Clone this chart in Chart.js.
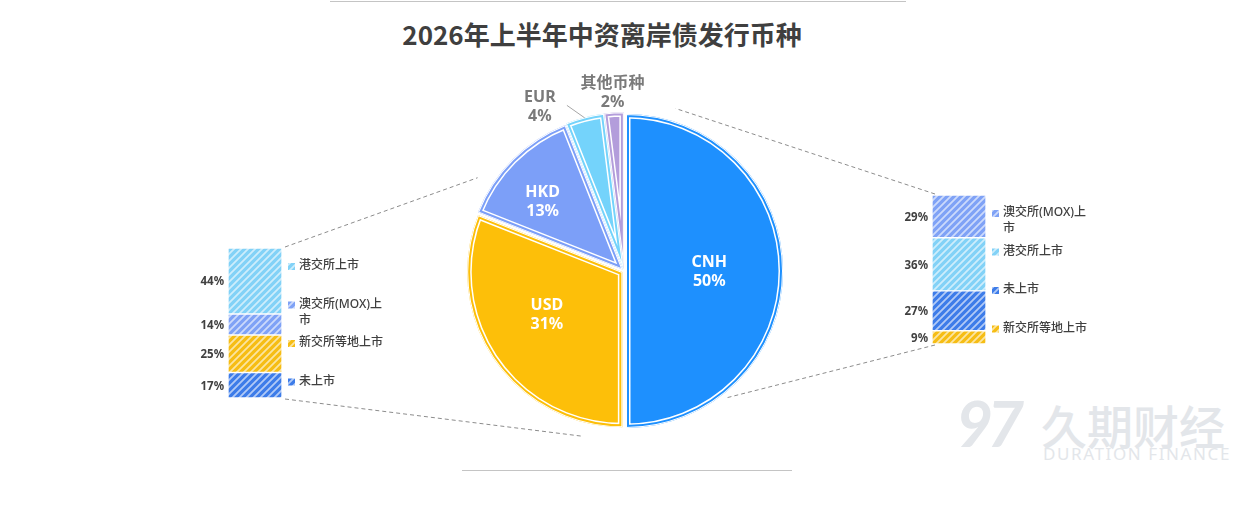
<!DOCTYPE html>
<html>
<head>
<meta charset="utf-8">
<script src="https://cdn.jsdelivr.net/npm/chart.js@4.4.1/dist/chart.umd.min.js"></script>
<style>
  html, body { margin: 0; padding: 0; background: #fff; }
  #wrap { position: relative; width: 1259px; height: 528px; overflow: hidden; font-family: "Noto Sans CJK SC", "Noto Sans", sans-serif; }
  #wrap canvas { position: absolute; }
  .rule { position: absolute; height: 1px; background: #c4c4c4; }
  .title { position: absolute; left: 0; width: 1204px; top: 15px; text-align: center; font-size: 26px; font-weight: bold; color: #3f3f3f; letter-spacing: 0; }
  .wm { position: absolute; color: #e3e6ea; white-space: nowrap; }
</style>
</head>
<body>
<div id="wrap">
  <div class="rule" style="left:330px; top:1px; width:576px;"></div>
  <div class="rule" style="left:462px; top:470px; width:330px;"></div>
  <div class="title">2026年上半年中资离岸债发行币种</div>

  <div class="wm" style="left:956px; top:384px; font: italic bold 64px 'Lato', sans-serif; letter-spacing:-6px;">97</div>
  <div class="wm" style="left:1041px; top:391px; font-size:46px; font-weight:500;">久期财经</div>
  <div class="wm" style="left:1043px; top:442px; font: 17px 'Noto Sans', sans-serif; letter-spacing:1.6px;">DURATION FINANCE</div>

  <canvas id="pieChart" width="1259" height="528" style="left:0; top:0;"></canvas>
  <canvas id="usdBar" width="230" height="190" style="left:190px; top:230px;"></canvas>
  <canvas id="cnhBar" width="230" height="190" style="left:890px; top:180px;"></canvas>
</div>

<script>
// currency split of issuance
const currencies = ["CNH", "USD", "HKD", "EUR", "其他币种"];
const shares = [50, 31, 13, 4, 2];
const currencyColors = ["#1e90fe", "#fdbf09", "#7c9ff8", "#74d3fb", "#b39ddb"];

// listing venue split, same order as venues
const venues = ["港交所上市", "澳交所(MOX)上市", "新交所等地上市", "未上市"];
const venueColors = ["#82d2f7", "#7fa2f6", "#f6bd14", "#3d7ce9"];
const usdVenueShares = [44, 14, 25, 17];
const cnhVenueShares = [36, 29, 9, 27];

// top-to-bottom stacking order of each bar (indices into venues)
const usdOrder = [0, 1, 2, 3];
const cnhOrder = [1, 0, 3, 2];

const labelFont = '"Noto Sans", "Noto Sans CJK SC", sans-serif';

function hatch(color) {
  const c = document.createElement("canvas");
  c.width = 7;
  c.height = 7;
  const g = c.getContext("2d");
  g.fillStyle = color;
  g.fillRect(0, 0, 7, 7);
  g.strokeStyle = "rgba(255,255,255,0.6)";
  g.lineWidth = 1.8;
  g.beginPath();
  for (let k = -7; k <= 7; k += 7) {
    g.moveTo(k - 1, 8);
    g.lineTo(k + 8, -1);
  }
  g.stroke();
  return g.createPattern(c, "repeat");
}

function wrapText(ctx, text, maxW) {
  const lines = [];
  let cur = "";
  for (const ch of text) {
    if (ctx.measureText(cur + ch).width > maxW && cur) {
      lines.push(cur);
      cur = ch;
    } else {
      cur += ch;
    }
  }
  lines.push(cur);
  return lines;
}

// percent labels left of the bar + legend right of it
const barDecor = {
  id: "barDecor",
  afterDatasetsDraw(chart) {
    const ctx = chart.ctx;
    const order = chart.options.venueOrder;
    ctx.save();
    chart.data.datasets.forEach((ds, i) => {
      const bar = chart.getDatasetMeta(i).data[0];
      const mid = (bar.y + bar.base) / 2;
      ctx.font = "bold 11.5px " + labelFont;
      ctx.fillStyle = "#404040";
      ctx.textAlign = "right";
      ctx.textBaseline = "middle";
      ctx.fillText(ds.data[0] + "%", bar.x - bar.width / 2 - 4, mid + 1);
    });
    const area = chart.chartArea;
    order.forEach((v, k) => {
      const y = area.top + 18 + k * 38.5;
      const x = area.right + 6;
      ctx.fillStyle = hatch(venueColors[v]);
      ctx.fillRect(x, y - 3, 7, 7);
      ctx.font = "500 12px " + labelFont;
      ctx.fillStyle = "#404040";
      ctx.textAlign = "left";
      ctx.textBaseline = "middle";
      wrapText(ctx, venues[v], 92).forEach((ln, j) => {
        ctx.fillText(ln, x + 11, y + j * 16);
      });
    });
    ctx.restore();
  }
};

function makeBar(id, values, order, pad) {
  const total = values.reduce((a, b) => a + b, 0);
  const bottomUp = order.slice().reverse();
  return new Chart(document.getElementById(id), {
    type: "bar",
    data: {
      labels: [""],
      datasets: bottomUp.map((v) => ({
        label: venues[v],
        data: [values[v]],
        backgroundColor: hatch(venueColors[v]),
        borderColor: "#fff",
        borderWidth: 1,
        borderSkipped: false,
        barPercentage: 1,
        categoryPercentage: 1,
      })),
    },
    options: {
      responsive: false,
      animation: false,
      events: [],
      venueOrder: order,
      layout: { padding: pad },
      scales: {
        x: { display: false, stacked: true },
        y: { display: false, stacked: true, min: 0, max: total },
      },
      plugins: { legend: { display: false }, tooltip: { enabled: false } },
    },
    plugins: [barDecor],
  });
}

const usdBar = makeBar("usdBar", usdVenueShares, usdOrder, { left: 38, right: 138, top: 18, bottom: 22 });
const cnhBar = makeBar("cnhBar", cnhVenueShares, cnhOrder, { left: 42, right: 134, top: 15, bottom: 26 });

// label placement for each slice
const pieLabelStyle = [
  { dist: 0.55, dx: 0, dy: 0, outside: false },
  { dist: 0.57, dx: -4, dy: -6, outside: false },
  { dist: 0.66, dx: -9, dy: 3, outside: false },
  { dist: 1.17, dx: -39, dy: 11, outside: true, leader: true },
  { dist: 1.17, dx: 0, dy: 2, outside: true },
];

// dashed lines from bar corners toward the pie
const connectors = [
  { chart: usdBar, left: 190, top: 230, side: "right", end: "top", angle: 302.5, dist: 1.12 },
  { chart: usdBar, left: 190, top: 230, side: "right", end: "bottom", angle: 194.4, dist: 1.1 },
  { chart: cnhBar, left: 890, top: 180, side: "left", end: "top", angle: 17.6, dist: 1.1 },
  { chart: cnhBar, left: 890, top: 180, side: "left", end: "bottom", angle: 141.3, dist: 1.05 },
];

const connectorLines = {
  id: "connectorLines",
  beforeDatasetsDraw(chart) {
    const ctx = chart.ctx;
    const arc = chart.getDatasetMeta(0).data[0];
    ctx.save();
    ctx.strokeStyle = "#8c8c8c";
    ctx.lineWidth = 1;
    ctx.setLineDash([4, 3]);
    connectors.forEach((c) => {
      const metas = c.chart.getSortedVisibleDatasetMetas();
      const topBar = metas[metas.length - 1].data[0];
      const botBar = metas[0].data[0];
      const bx = c.left + (c.side === "right" ? topBar.x + topBar.width / 2 + 3 : topBar.x - topBar.width / 2 + 3);
      const by = c.top + (c.end === "top" ? topBar.y - 1 : botBar.base + 1);
      const a = (c.angle - 90) * Math.PI / 180;
      const d = arc.outerRadius * c.dist;
      ctx.beginPath();
      ctx.moveTo(bx, by);
      ctx.lineTo(arc.x + Math.cos(a) * d, arc.y + Math.sin(a) * d);
      ctx.stroke();
    });
    ctx.restore();
  }
};

// inner white outline inside each slice
const sliceTrim = {
  id: "sliceTrim",
  afterDatasetsDraw(chart) {
    const ctx = chart.ctx;
    chart.getDatasetMeta(0).data.forEach((arc) => {
      const o = arc.options;
      const off = (o.offset || 0) / 4;
      const half = (arc.startAngle + arc.endAngle) / 2;
      const fix = 1 - Math.sin(Math.min(Math.PI, arc.circumference || 0));
      const r = arc.outerRadius + off * fix;
      ctx.save();
      ctx.translate(Math.cos(half) * off, Math.sin(half) * off);
      ctx.beginPath();
      ctx.moveTo(arc.x, arc.y);
      ctx.arc(arc.x, arc.y, r, arc.startAngle, arc.endAngle);
      ctx.closePath();
      ctx.clip();
      ctx.strokeStyle = "#fff";
      ctx.lineWidth = 9;
      ctx.stroke();
      ctx.strokeStyle = o.backgroundColor;
      ctx.lineWidth = 6;
      ctx.stroke();
      ctx.strokeStyle = "#fff";
      ctx.lineWidth = 2;
      ctx.stroke();
      ctx.restore();
    });
  }
};

const sliceLabels = {
  id: "sliceLabels",
  afterDatasetsDraw(chart) {
    const ctx = chart.ctx;
    chart.getDatasetMeta(0).data.forEach((arc, i) => {
      const st = pieLabelStyle[i];
      const half = (arc.startAngle + arc.endAngle) / 2;
      const d = arc.outerRadius * st.dist;
      const x = arc.x + Math.cos(half) * d + st.dx;
      const y = arc.y + Math.sin(half) * d + st.dy;
      ctx.save();
      if (st.leader) {
        ctx.strokeStyle = "#a6a6a6";
        ctx.lineWidth = 1;
        ctx.beginPath();
        ctx.moveTo(x + 27, y - 1);
        ctx.lineTo(arc.x + Math.cos(half) * arc.outerRadius * 1.02, arc.y + Math.sin(half) * arc.outerRadius * 1.02);
        ctx.stroke();
      }
      ctx.font = "bold 16px " + labelFont;
      ctx.fillStyle = st.outside ? "#7a7a7a" : "#ffffff";
      ctx.textAlign = "center";
      ctx.textBaseline = "middle";
      ctx.fillText(currencies[i], x, y - 9);
      ctx.fillText(shares[i] + "%", x, y + 10);
      ctx.restore();
    });
  }
};

new Chart(document.getElementById("pieChart"), {
  type: "pie",
  data: {
    labels: currencies,
    datasets: [{
      data: shares,
      backgroundColor: currencyColors,
      borderColor: "#ffffff",
      borderWidth: 2,
      offset: 8,
    }],
  },
  options: {
    responsive: false,
    animation: false,
    events: [],
    radius: 155,
    layout: { padding: { left: 0, right: 11, top: 14, bottom: 0 } },
    plugins: { legend: { display: false }, tooltip: { enabled: false } },
  },
  plugins: [connectorLines, sliceTrim, sliceLabels],
});
</script>
</body>
</html>
